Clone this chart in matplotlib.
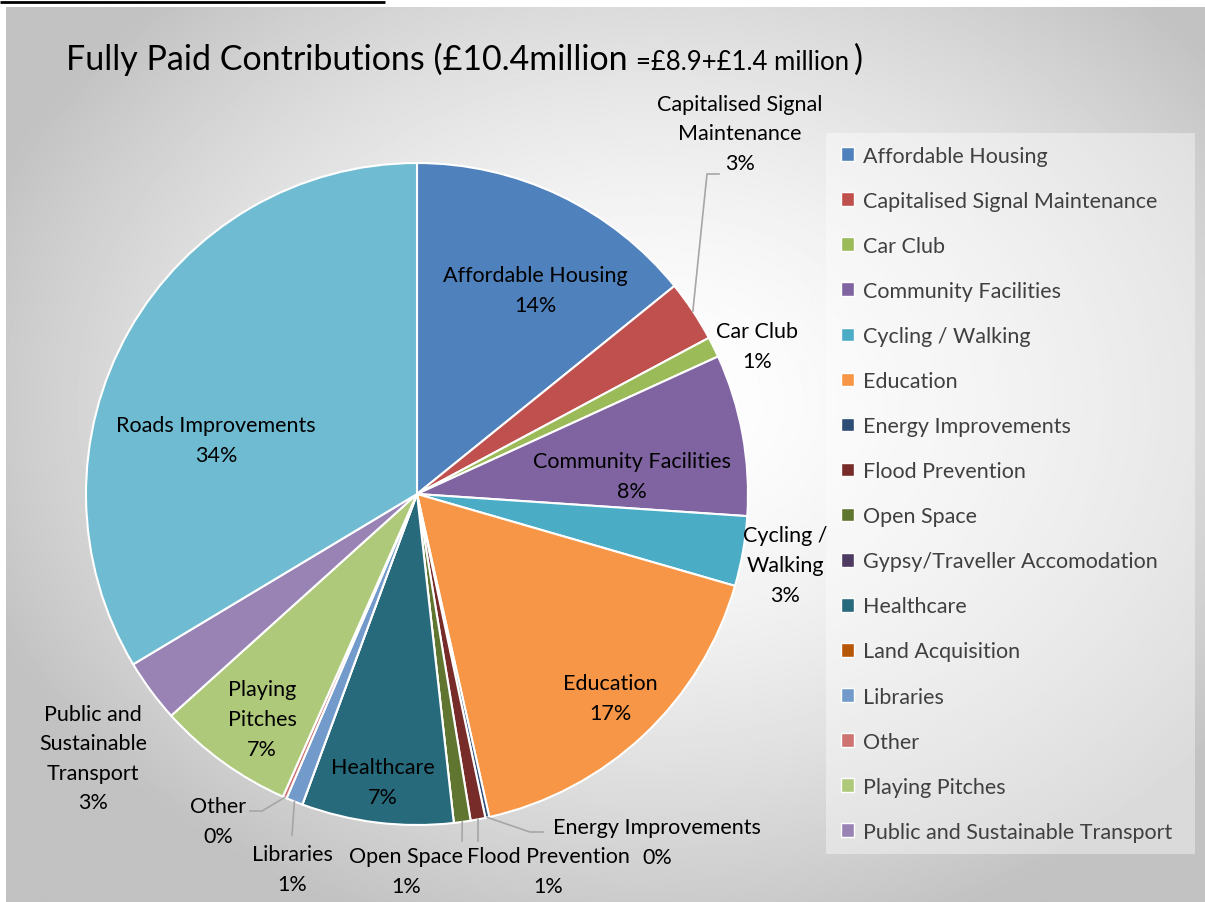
import matplotlib.pyplot as plt
import numpy as np
from matplotlib.patches import Patch, Rectangle

plt.rcParams['font.family'] = ['Lato', 'DejaVu Sans']

# Fully paid contributions by category, £000s (total about £10.4m)
categories = ['Affordable Housing', 'Capitalised Signal Maintenance', 'Car Club',
              'Community Facilities', 'Cycling / Walking', 'Education',
              'Energy Improvements', 'Flood Prevention', 'Open Space',
              'Gypsy/Traveller Accomodation', 'Healthcare', 'Land Acquisition',
              'Libraries', 'Other', 'Playing Pitches',
              'Public and Sustainable Transport', 'Roads Improvements']
amounts = [1475, 312, 104, 820, 355, 1770, 20, 75, 85, 0, 770, 0, 85, 20, 695, 320, 3495]
colors = ['#4F81BD', '#C0504D', '#9BBB59', '#8064A2', '#4BACC6', '#F79646',
          '#2C4D75', '#772C2A', '#5F7530', '#4D3B62', '#276A7C', '#B65708',
          '#729ACA', '#CD7371', '#AFC97A', '#9983B5', '#6FBBD2']

# how the data labels wrap
label_names = ['Affordable Housing', 'Capitalised Signal\nMaintenance', 'Car Club',
               'Community Facilities', 'Cycling /\nWalking', 'Education',
               'Energy Improvements', 'Flood Prevention', 'Open Space',
               None, 'Healthcare', None, 'Libraries', 'Other',
               'Playing\nPitches', 'Public and\nSustainable\nTransport',
               'Roads Improvements']

# legend box only has room for the first 16 entries
legend_count = 16

W, H = 1205, 903
CX, CY, R = 417, 495, 331   # pie centre and radius in pixels
LINE_PITCH = 29.5           # data label line spacing, pixels

# label centres (pixels) and leader-line elbows
label_pos = {
    'Affordable Housing': (535, 291),
    'Capitalised Signal Maintenance': (740, 134),
    'Car Club': (757, 347),
    'Community Facilities': (632, 477),
    'Cycling / Walking': (785, 566),
    'Education': (610, 699),
    'Energy Improvements': (657, 843),
    'Flood Prevention': (548, 872),
    'Open Space': (406, 872),
    'Healthcare': (383, 783),
    'Libraries': (292, 870),
    'Other': (218, 822),
    'Playing Pitches': (262, 720),
    'Public and Sustainable Transport': (93, 759),
    'Roads Improvements': (216, 441),
}
leaders = {
    'Capitalised Signal Maintenance': [(707, 175), (719, 175)],
    'Energy Improvements': [(530, 833), (543, 833)],
    'Flood Prevention': [(478, 842)],
    'Open Space': [(462, 842)],
    'Libraries': [(292, 836)],
    'Other': [(262, 812), (250, 812)],
}


def to_data(px, py):
    return (px - CX) / R, (CY - py) / R


fig = plt.figure(figsize=(W / 100, H / 100), dpi=100)
fig.patch.set_facecolor('white')

# background: radial grey gradient in the chart area
bg = fig.add_axes([0, 0, 1, 1])
bg.set_xlim(0, W)
bg.set_ylim(H, 0)
bg.axis('off')
yy, xx = np.mgrid[0:H, 0:W]
d = np.sqrt(((xx - 650) / (W * 0.6)) ** 2 + ((yy - 400) / (H * 0.62)) ** 2)
shade = 1 - 0.24 * np.clip(d, 0, 1) ** 1.6
bg.imshow(shade, cmap='gray', vmin=0, vmax=1, extent=(6, W, H, 8), aspect='auto')
bg.plot([0, 385], [3, 3], color='black', lw=2, solid_capstyle='butt')

# legend panel
bg.add_patch(Rectangle((826, 134), 369, 721, facecolor='white', alpha=0.4, lw=0))

ax = fig.add_axes([0, 0, 1, 1])
ax.patch.set_visible(False)
ax.pie(amounts, colors=colors, startangle=90, counterclock=False, radius=1,
       wedgeprops=dict(edgecolor='white', linewidth=1.5))
ax.set_xlim(-CX / R, (W - CX) / R)
ax.set_ylim((CY - H) / R, CY / R)
ax.set_aspect('auto')
ax.axis('off')

total = sum(amounts)
cum = np.cumsum([0] + amounts)
for i, name in enumerate(categories):
    if amounts[i] == 0:
        continue
    pct = round(100 * amounts[i] / total)
    lines = label_names[i].split('\n') + [f'{pct}%']
    px, py = label_pos[name]
    n = len(lines)
    for k, line in enumerate(lines):
        lx, ly = to_data(px, py + (k - (n - 1) / 2) * LINE_PITCH)
        ax.text(lx, ly, line, ha='center', va='center', fontsize=15.5, color='black')
    if name in leaders:
        mid = np.radians(90 - 360 * (cum[i] + amounts[i] / 2) / total)
        pts = [(np.cos(mid), np.sin(mid))] + [to_data(*p) for p in leaders[name]]
        xs, ys = zip(*pts)
        ax.plot(xs, ys, color='#a6a6a6', lw=1.2)

handles = [Patch(facecolor=c, edgecolor='white', lw=1) for c in colors[:legend_count]]
leg = fig.legend(handles, categories[:legend_count], loc='upper left',
                 bbox_to_anchor=(832 / W, 1 - 138 / H), frameon=False,
                 fontsize=15.5, labelcolor='#404040', handlelength=0.6,
                 handleheight=0.6, handletextpad=0.45, labelspacing=1.165,
                 borderaxespad=0)

# title with the smaller breakdown in the middle
renderer = fig.canvas.get_renderer()
x0, base = 66 / W, 1 - 70 / H
parts = [('Fully Paid Contributions (£10.4million ', 24.5, 0),
         ('=£8.9+£1.4 million', 18.5, 4), (')', 24.5, 0)]
for txt, size, gap in parts:
    t = fig.text(x0, base, txt, fontsize=size, va='baseline', ha='left', color='black')
    bb = t.get_window_extent(renderer)
    x0 = (bb.x1 + gap) / W

fig.savefig('out.png', dpi=100)
